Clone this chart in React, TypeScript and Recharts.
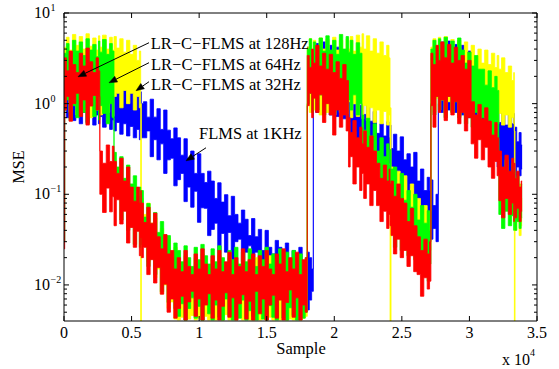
import React from 'react';
import { ComposedChart, Area, XAxis, YAxis, ReferenceLine, ReferenceDot } from 'recharts';

const W = 559;
const H = 369;
const PLOT_TOP = 13;
const PLOT_RIGHT = 537;
const FONT = '"Liberation Serif", "Times New Roman", serif';

// Sample index (x axis)
const samples = [
  0, 100, 250, 500, 750, 1000, 1250, 1500, 1750, 2000, 2250, 2500, 2600, 2700,
  3000, 3250, 3500, 3650, 3750, 4000, 4250, 4500, 4750, 5000, 5250, 5500, 5650, 5700, 5750,
  6000, 6250, 6500, 6750, 7000, 7250, 7500, 7750, 8000, 8250,
  8500, 8750, 9000, 9250, 9500, 9750, 10000, 10250, 10500, 10750, 11000, 11250, 11500, 11750,
  12000, 12250, 12500, 12750, 13000, 13250, 13500, 13750, 14000, 14250, 14500, 14750, 15000,
  15250, 15500, 15750, 16000, 16250, 16500, 16750, 17000, 17250, 17500, 17750,
  17950, 18050, 18250, 18400, 18500, 18750, 19000, 19250, 19500, 19750, 20000, 20250, 20500, 20750, 21000,
  21100, 21250, 21500, 21750, 22000, 22100, 22250, 22500, 22750, 23000, 23250, 23500, 23750, 24000,
  24100, 24150, 24250, 24500, 24750, 25000, 25250, 25500, 25750, 26000, 26250, 26500, 26750, 27000, 27100,
  27200, 27400, 27650, 27750, 28000, 28250, 28500, 28750, 29000, 29250, 29500, 29750, 30000, 30250,
  30500, 30750, 31000, 31250, 31500, 31750, 32000, 32100, 32250, 32500, 32750, 33000, 33250, 33300,
  33350, 33400, 33600, 33750, 33900,
];

// LR-C-FLMS at 128Hz (red): lower / upper envelope of the noisy MSE
const redLo = [
  0.025, 0.85, 1.2, 0.64, 1.0, 1.3, 0.72, 1.1, 0.58, 0.94, 1.23, 0.85, 1.2,
  0.1, 0.063, 0.117, 0.064, 0.094, 0.045, 0.087, 0.047, 0.065, 0.029, 0.043, 0.026, 0.039,
  0.021, 0.033, 0.02, 0.026, 0.013, 0.019, 0.0105, 0.0156, 0.0079, 0.0102, 0.005, 0.007, 0.0043,
  0.0055, 0.0075, 0.0041, 0.0065, 0.0085, 0.0045, 0.007, 0.0041, 0.006, 0.008,
  0.0043, 0.0068, 0.0041, 0.0058, 0.0082, 0.0044, 0.0072, 0.0041, 0.0062, 0.0078,
  0.0042, 0.0066, 0.0041, 0.0085, 0.0048, 0.007, 0.0041, 0.006, 0.0077, 0.0043,
  0.0068, 0.0041, 0.0064, 0.0088, 0.0044, 0.0072, 0.0041, 0.006,
  0.005, 0.95, 1.3, 0.7, 1.15, 0.8, 1.25, 0.62, 1.0, 0.75, 0.45, 0.85, 0.55, 0.75, 0.5,
  0.2, 0.26, 0.13, 0.2, 0.11, 0.17, 0.09, 0.13, 0.075, 0.11, 0.075, 0.05, 0.065, 0.042,
  0.06, 0.045, 0.035, 0.022, 0.032, 0.02, 0.024, 0.016, 0.021, 0.014, 0.013, 0.0075, 0.012, 0.009, 0.011,
  0.95, 0.55, 1.2, 0.8, 1.1, 0.65, 1.2, 0.75, 1.05, 0.6, 0.8, 0.5, 0.7, 0.36,
  0.25, 0.4, 0.24, 0.33, 0.2, 0.15, 0.23, 0.16, 0.085, 0.055, 0.09, 0.06, 0.08, 0.05,
  0.075, 0.055, 0.07, 0.05, 0.065,
];
const redHi = [
  1.8, 3.2, 2.3, 3.8, 2.7, 2.2, 3.6, 2.6, 4.1, 2.9, 2.2, 3.2, 2.3,
  0.3, 0.22, 0.35, 0.23, 0.34, 0.23, 0.17, 0.25, 0.14, 0.2, 0.12, 0.084, 0.12,
  0.08, 0.11, 0.08, 0.049, 0.072, 0.048, 0.062, 0.034, 0.025, 0.036, 0.022, 0.024, 0.015,
  0.02, 0.014, 0.024, 0.016, 0.013, 0.022, 0.015, 0.025, 0.017, 0.013,
  0.021, 0.015, 0.024, 0.014, 0.018, 0.023, 0.013, 0.02, 0.016, 0.025,
  0.014, 0.019, 0.022, 0.013, 0.021, 0.016, 0.024, 0.015, 0.013, 0.022,
  0.017, 0.025, 0.014, 0.02, 0.015, 0.023, 0.013, 0.019,
  0.02, 3.4, 2.5, 4.0, 2.8, 4.4, 2.6, 3.6, 2.4, 3.5, 2.2, 2.9, 1.9, 2.7, 1.8,
  0.7, 0.48, 0.65, 0.42, 0.55, 0.36, 0.5, 0.33, 0.44, 0.3, 0.22, 0.15, 0.21, 0.14,
  0.19, 0.13, 0.14, 0.095, 0.13, 0.09, 0.08, 0.05, 0.07, 0.045, 0.034, 0.024, 0.032, 0.022, 0.03,
  3.6, 2.7, 4.4, 3.0, 4.8, 3.2, 4.5, 2.8, 4.2, 3.0, 3.4, 2.4, 3.0, 1.05,
  0.75, 0.98, 0.68, 0.9, 0.64, 0.45, 0.62, 0.42, 0.3, 0.2, 0.27, 0.18, 0.25, 0.17,
  0.22, 0.15, 0.18, 0.12, 0.14,
];

// LR-C-FLMS at 64Hz (green)
const greenLo = [
  0.03, 0.85, 1.1, 0.65, 0.95, 0.7, 1.15, 0.8, 0.6, 1.0, 0.72, 1.1, 0.66, 0.95, 0.78, 0.6, 1.0, 0.7,
  0.1, 0.098, 0.052, 0.075, 0.04, 0.061, 0.028, 0.042, 0.026, 0.039, 0.028,
  0.031, 0.016, 0.024, 0.013, 0.019, 0.0084, 0.012, 0.0064, 0.0085, 0.0055,
  0.0045, 0.0062, 0.0041, 0.0055, 0.0072, 0.0043, 0.0058, 0.0041, 0.0066, 0.0048,
  0.0041, 0.006, 0.0044, 0.0041, 0.007, 0.0046, 0.0041, 0.0057, 0.0043, 0.0068,
  0.0041, 0.0052, 0.0045, 0.0041, 0.0063, 0.0042, 0.0041, 0.0059, 0.0044, 0.0041,
  0.0069, 0.0043, 0.0041, 0.0056, 0.0046, 0.0041, 0.0062, 0.0043,
  0.005, 1.0, 1.3, 0.8, 1.2, 0.85, 1.25, 0.75, 1.1, 1.3, 0.8, 1.2, 0.9, 1.3, 0.78,
  1.1, 0.85, 1.25, 0.75, 1.0,
  0.3, 0.33, 0.17, 0.24, 0.14, 0.2, 0.09, 0.15, 0.08, 0.11, 0.09, 0.065,
  0.026, 0.038, 0.024, 0.036, 0.021, 0.033, 0.019, 0.024, 0.018, 0.021, 0.011, 0.017,
  1.0, 0.75, 1.2, 0.85, 1.1, 0.7, 1.2, 0.8, 1.05, 0.7, 0.95, 0.6, 0.85, 0.55,
  0.8, 0.5, 0.7, 0.48, 0.65, 0.45, 0.6, 0.42,
  0.06, 0.042, 0.065, 0.045, 0.058, 0.04, 0.055, 0.04, 0.05, 0.042, 0.055,
];
const greenHi = [
  2.2, 3.6, 4.6, 3.2, 5.0, 3.8, 4.8, 3.4, 5.2, 3.9, 4.5, 3.3, 4.9, 3.7, 5.1, 3.5, 4.6, 3.8,
  0.29, 0.2, 0.26, 0.15, 0.21, 0.13, 0.16, 0.096, 0.12, 0.07, 0.11,
  0.056, 0.079, 0.047, 0.063, 0.038, 0.05, 0.029, 0.035, 0.02, 0.029,
  0.024, 0.018, 0.027, 0.02, 0.016, 0.026, 0.019, 0.028, 0.021, 0.017,
  0.025, 0.018, 0.027, 0.02, 0.016, 0.024, 0.019, 0.026, 0.017, 0.023,
  0.018, 0.025, 0.02, 0.016, 0.024, 0.019, 0.026, 0.017, 0.022, 0.018,
  0.025, 0.016, 0.023, 0.019, 0.024, 0.017, 0.022, 0.018,
  0.02, 4.0, 5.2, 3.6, 4.8, 3.4, 5.3, 3.8, 5.6, 3.9, 5.0, 3.5, 5.8, 4.0, 5.5,
  3.7, 5.0, 3.5, 4.7, 3.6,
  0.75, 0.51, 0.69, 0.44, 0.6, 0.3, 0.42, 0.26, 0.36, 0.21, 0.31, 0.19,
  0.2, 0.12, 0.17, 0.086, 0.11, 0.072, 0.1, 0.052, 0.075, 0.048, 0.066, 0.04,
  4.0, 5.0, 3.6, 5.2, 3.8, 5.4, 3.7, 4.9, 3.5, 5.3, 3.9, 2.8, 3.7, 2.6,
  3.4, 2.4, 2.4, 1.6, 2.3, 1.5, 2.0, 1.4,
  0.26, 0.18, 0.24, 0.16, 0.22, 0.15, 0.19, 0.13, 0.16, 0.11, 0.13,
];

// LR-C-FLMS at 32Hz (yellow)
const yellowLo = [
  0.03, 0.95, 1.25, 0.8, 1.1, 0.75, 1.3, 0.85, 1.15, 0.7, 1.2, 0.85, 1.1, 0.75,
  1.25, 0.8, 1.1, 0.72, 1.2, 1.3, 0.9, 1.4, 1.0, 1.3, 0.85, 1.2, 0.9,
  0.004,
  0.03, 0.032, 0.018, 0.024, 0.012, 0.015, 0.008, 0.01, 0.0055, 0.0065, 0.0042,
  0.0041, 0.0044, 0.0041, 0.0042, 0.0046, 0.0041, 0.0043, 0.0041, 0.0045, 0.0041,
  0.0042, 0.0041, 0.0044, 0.0041, 0.0047, 0.0041, 0.0042, 0.0041, 0.0045, 0.0041,
  0.0043, 0.0041, 0.0041, 0.0046, 0.0041, 0.0042, 0.0041, 0.0044, 0.0041, 0.0043,
  0.0041, 0.0045, 0.0041, 0.0042, 0.0041, 0.0046, 0.0041, 0.0043,
  0.0045, 1.0, 0.8, 1.2, 0.85, 1.15, 0.75, 1.2, 0.8, 1.1, 0.75, 1.15, 0.8, 1.1, 0.78,
  1.05, 0.7, 1.0, 0.72, 1.05, 0.68, 0.95, 0.65, 0.9, 0.62, 0.85, 0.6, 0.82, 0.58, 0.75,
  0.004,
  0.06, 0.065, 0.04, 0.05, 0.032, 0.042, 0.028, 0.036, 0.024, 0.03, 0.022, 0.032, 0.024,
  1.0, 0.8, 1.15, 0.85, 1.1, 0.78, 1.05, 0.8, 1.1, 0.75, 1.0, 0.72, 0.95, 0.7,
  0.9, 0.66, 0.85, 0.65, 0.82, 0.6, 0.8, 0.6, 0.78, 0.58, 0.75, 0.55, 0.7, 0.6,
  0.004,
  0.04, 0.05, 0.035, 0.045,
];
const yellowHi = [
  2.5, 4.2, 5.4, 3.9, 5.8, 4.4, 5.5, 4.0, 5.9, 4.3, 5.3, 3.9, 5.6, 4.2,
  5.7, 4.0, 5.4, 3.9, 5.5, 4.1, 5.2, 3.7, 5.0, 3.5, 4.4, 3.0, 3.8,
  1.0,
  0.09, 0.06, 0.08, 0.048, 0.055, 0.034, 0.042, 0.026, 0.033, 0.02, 0.026,
  0.018, 0.014, 0.021, 0.016, 0.013, 0.02, 0.015, 0.022, 0.017, 0.014,
  0.019, 0.015, 0.021, 0.016, 0.013, 0.02, 0.015, 0.018, 0.014, 0.021,
  0.016, 0.019, 0.014, 0.02, 0.015, 0.018, 0.013, 0.021, 0.016, 0.019,
  0.014, 0.02, 0.015, 0.018, 0.014, 0.021, 0.016, 0.018,
  0.018, 4.2, 5.2, 3.8, 5.0, 3.6, 5.3, 4.0, 5.1, 3.7, 5.4, 3.9, 5.0, 3.6, 5.2,
  4.0, 5.5, 3.8, 5.7, 4.2, 5.9, 4.0, 5.6, 3.8, 5.2, 3.6, 4.8, 3.4, 4.4, 3.2,
  0.9,
  0.2, 0.14, 0.18, 0.12, 0.16, 0.1, 0.13, 0.08, 0.09, 0.06, 0.075, 0.05, 0.065,
  4.2, 5.2, 3.8, 5.4, 4.0, 5.5, 3.9, 5.1, 3.7, 5.0, 3.6, 4.8, 3.5, 4.4,
  3.0, 4.0, 2.8, 3.9, 2.7, 3.6, 2.5, 3.4, 2.4, 3.2, 2.2, 2.6, 1.8, 2.2,
  0.5,
  0.15, 0.1, 0.13, 0.09,
];

// FLMS at 1KHz (blue)
const blueLo = [
  0.03, 0.85, 0.7, 0.9, 0.65, 0.85, 0.6, 0.8, 0.62, 0.78, 0.58, 0.75, 0.6, 0.72,
  0.55, 0.7, 0.52, 0.66, 0.5, 0.62, 0.46, 0.6, 0.44, 0.56, 0.42, 0.52, 0.4, 0.5, 0.42,
  0.42, 0.5, 0.26, 0.4, 0.24, 0.36, 0.17, 0.24, 0.25, 0.124,
  0.145, 0.17, 0.083, 0.12, 0.072, 0.108, 0.049, 0.071, 0.07, 0.035,
  0.041, 0.048, 0.024, 0.037, 0.023, 0.038, 0.019, 0.03, 0.032, 0.018,
  0.023, 0.027, 0.0144, 0.023, 0.0144, 0.016, 0.0112, 0.0173, 0.018, 0.0098,
  0.012, 0.0143, 0.0076, 0.012, 0.0076, 0.0122, 0.006, 0.0092,
  0.0098, 0.0053, 0.0068, 0.0085,
  1.0, 0.8, 1.15, 0.85, 1.1, 0.75, 1.05, 0.72, 0.95, 0.68, 0.85, 0.62,
  0.42, 0.49, 0.27, 0.41, 0.26, 0.42, 0.21, 0.33, 0.18, 0.27, 0.2, 0.26, 0.14, 0.22,
  0.13, 0.19, 0.09, 0.16, 0.092, 0.14, 0.095, 0.117, 0.064, 0.072, 0.042, 0.063, 0.031, 0.056,
  0.032, 0.042, 0.03,
  1.0, 0.8, 1.15, 0.85, 1.1, 0.8, 1.05, 0.75, 0.95, 0.7, 0.85, 0.55, 0.7, 0.5, 0.62, 0.42, 0.5, 0.28,
  0.2, 0.26, 0.16, 0.23, 0.17, 0.24, 0.16, 0.2, 0.15, 0.2, 0.16, 0.19,
];
const blueHi = [
  1.5, 2.5, 2.0, 2.8, 2.1, 2.6, 1.9, 2.5, 2.0, 2.4, 1.8, 2.3, 1.9, 2.2,
  1.7, 2.1, 1.6, 2.0, 1.5, 1.8, 1.3, 1.7, 1.25, 1.55, 1.15, 1.45, 1.1, 1.35, 1.0,
  1.05, 0.71, 1.12, 0.71, 0.88, 0.52, 0.85, 0.51, 0.41, 0.54,
  0.42, 0.27, 0.41, 0.25, 0.3, 0.17, 0.28, 0.17, 0.135, 0.18,
  0.14, 0.09, 0.134, 0.082, 0.099, 0.058, 0.095, 0.06, 0.048, 0.067,
  0.053, 0.035, 0.054, 0.034, 0.041, 0.024, 0.04, 0.026, 0.022, 0.031,
  0.026, 0.018, 0.029, 0.019, 0.024, 0.015, 0.026, 0.017,
  0.015, 0.023, 0.02, 0.015,
  3.6, 4.6, 3.2, 4.8, 3.5, 4.4, 3.1, 4.2, 2.9, 3.6, 2.5, 3.2,
  1.4, 0.98, 1.44, 0.96, 1.38, 0.76, 1.05, 0.64, 0.82, 0.47, 0.6, 0.44, 0.63, 0.42,
  0.58, 0.32, 0.46, 0.3, 0.43, 0.24, 0.28, 0.2, 0.29, 0.14, 0.19, 0.11, 0.154, 0.11,
  0.144, 0.075, 0.1,
  3.8, 4.8, 3.4, 4.9, 3.6, 4.5, 3.3, 4.4, 3.2, 3.8, 2.6, 2.6, 1.7, 2.3, 1.5, 1.8, 1.1, 1.2,
  0.9, 0.62, 0.85, 0.58, 0.88, 0.6, 0.78, 0.5, 0.55, 0.38, 0.48, 0.35,
];

const xTicks = [0, 5000, 10000, 15000, 20000, 25000, 30000, 35000];
const xTickLabels = ['0', '0.5', '1', '1.5', '2', '2.5', '3', '3.5'];
const yTicks = [
  0.005, 0.006, 0.007, 0.008, 0.009, 0.01, 0.02, 0.03, 0.04, 0.05, 0.06, 0.07, 0.08, 0.09,
  0.1, 0.2, 0.3, 0.4, 0.5, 0.6, 0.7, 0.8, 0.9, 1, 2, 3, 4, 5, 6, 7, 8, 9, 10,
];
const yDecades = [0.01, 0.1, 1, 10];
const yDecadeExps = ['\u22122', '\u22121', '0', '1'];

const annotationTexts = [
  { text: 'LR\u2212C\u2212FLMS at 128Hz', s: 6416, v: 4.0 },
  { text: 'LR\u2212C\u2212FLMS at 64Hz', s: 6438, v: 2.33 },
  { text: 'LR\u2212C\u2212FLMS at 32Hz', s: 6438, v: 1.42 },
  { text: 'FLMS at 1KHz', s: 9990, v: 0.404 },
];
const annotationArrows = [
  { s1: 6290, v1: 4.7, s2: 1036, v2: 1.98 },
  { s1: 6290, v1: 2.83, s2: 3330, v2: 1.7 },
  { s1: 6290, v1: 1.745, s2: 5328, v2: 1.39 },
  { s1: 10508, v1: 0.326, s2: 9028, v2: 0.234 },
];

const data = samples.map((s, i) => ({
  s,
  blue: [blueLo[i], blueHi[i]],
  yellow: [yellowLo[i], yellowHi[i]],
  green: [greenLo[i], greenHi[i]],
  red: [redLo[i], redHi[i]],
}));

function XTick(props: any) {
  const { x, y, payload } = props;
  const i = xTicks.indexOf(payload.value);
  return (
    <g>
      <line x1={x} x2={x} y1={y} y2={y - 5} stroke="#000" />
      <line x1={x} x2={x} y1={PLOT_TOP} y2={PLOT_TOP + 5} stroke="#000" />
      <text x={x} y={y + 17} textAnchor="middle" fontFamily={FONT} fontSize={16} fill="#000">
        {xTickLabels[i]}
      </text>
    </g>
  );
}

function YTick(props: any) {
  const { x, y, payload } = props;
  const v = payload.value;
  const di = yDecades.findIndex((d) => Math.abs(d - v) / d < 1e-6);
  const len = di >= 0 ? 5 : 3;
  return (
    <g>
      <line x1={x} x2={x + len} y1={y} y2={y} stroke="#000" />
      <line x1={PLOT_RIGHT - len} x2={PLOT_RIGHT} y1={y} y2={y} stroke="#000" />
      {di >= 0 && (
        <g>
          <text x={50} y={y + 5} textAnchor="end" fontFamily={FONT} fontSize={16} fill="#000">10</text>
          <text x={50.5} y={y - 2} textAnchor="start" fontFamily={FONT} fontSize={10} fill="#000">
            {yDecadeExps[di]}
          </text>
        </g>
      )}
    </g>
  );
}

function Arrow(p: any) {
  const x1 = Number(p.x1), y1 = Number(p.y1), x2 = Number(p.x2), y2 = Number(p.y2);
  const dx = x2 - x1, dy = y2 - y1;
  const len = Math.sqrt(dx * dx + dy * dy) || 1;
  const ux = dx / len, uy = dy / len;
  const hl = 8, hw = 3.2;
  const bx = x2 - ux * hl, by = y2 - uy * hl;
  const pts = `${x2},${y2} ${bx - uy * hw},${by + ux * hw} ${bx + uy * hw},${by - ux * hw}`;
  return (
    <g>
      <line x1={x1} y1={y1} x2={bx} y2={by} stroke="#000" strokeWidth={1} />
      <polygon points={pts} fill="#000" stroke="#000" strokeWidth={0.5} />
    </g>
  );
}

const xLabel = () => (
  <g>
    <text x={301} y={354} textAnchor="middle" fontFamily={FONT} fontSize={16.5} fill="#000">Sample</text>
    <text x={502} y={365} textAnchor="start" fontFamily={FONT} fontSize={16} fill="#000">x 10</text>
    <text x={530} y={356} textAnchor="start" fontFamily={FONT} fontSize={10} fill="#000">4</text>
  </g>
);

const yLabel = () => (
  <text x={23.5} y={167} transform="rotate(-90, 23.5, 167)" textAnchor="middle" fontFamily={FONT} fontSize={16} fill="#000">
    MSE
  </text>
);

const seriesOrder = [
  { key: 'blue', color: '#0000ff' },
  { key: 'yellow', color: '#ffff00' },
  { key: 'green', color: '#00ff00' },
  { key: 'red', color: '#ff0000' },
];

export default function App() {
  return (
    <div style={{ position: 'absolute', left: 0, top: 0, width: W, height: H, background: '#fff' }}>
      <ComposedChart width={W} height={H} data={data} margin={{ top: PLOT_TOP, right: W - PLOT_RIGHT, bottom: 0, left: 0 }}>
        <XAxis
          dataKey="s"
          type="number"
          domain={[0, 35000]}
          ticks={xTicks}
          interval={0}
          tickSize={0}
          tickMargin={0}
          tick={<XTick />}
          height={48}
          axisLine={{ stroke: '#000', strokeWidth: 1 }}
          label={xLabel}
        />
        <YAxis
          type="number"
          scale="log"
          domain={[0.004, 10]}
          allowDataOverflow
          ticks={yTicks}
          interval={0}
          tickSize={0}
          tickMargin={0}
          tick={<YTick />}
          width={64}
          axisLine={{ stroke: '#000', strokeWidth: 1 }}
          label={yLabel}
        />
        {seriesOrder.map((sr) => (
          <Area
            key={sr.key}
            dataKey={sr.key}
            type="step"
            stroke={sr.color}
            strokeWidth={0.8}
            fill={sr.color}
            fillOpacity={1}
            dot={false}
            activeDot={false}
            isAnimationActive={false}
          />
        ))}
        <ReferenceLine y={10} stroke="#000" strokeWidth={1} />
        <ReferenceLine x={35000} stroke="#000" strokeWidth={1} />
        {annotationArrows.map((a, i) => (
          <ReferenceLine
            key={'a' + i}
            segment={[{ x: a.s1, y: a.v1 }, { x: a.s2, y: a.v2 }]}
            ifOverflow="visible"
            shape={(p: any) => <Arrow {...p} />}
          />
        ))}
        {annotationTexts.map((t, i) => (
          <ReferenceDot
            key={'t' + i}
            x={t.s}
            y={t.v}
            r={0}
            ifOverflow="visible"
            shape={(p: any) => (
              <text x={p.cx} y={p.cy} fontFamily={FONT} fontSize={16.5} fill="#000">
                {t.text}
              </text>
            )}
          />
        ))}
      </ComposedChart>
    </div>
  );
}
